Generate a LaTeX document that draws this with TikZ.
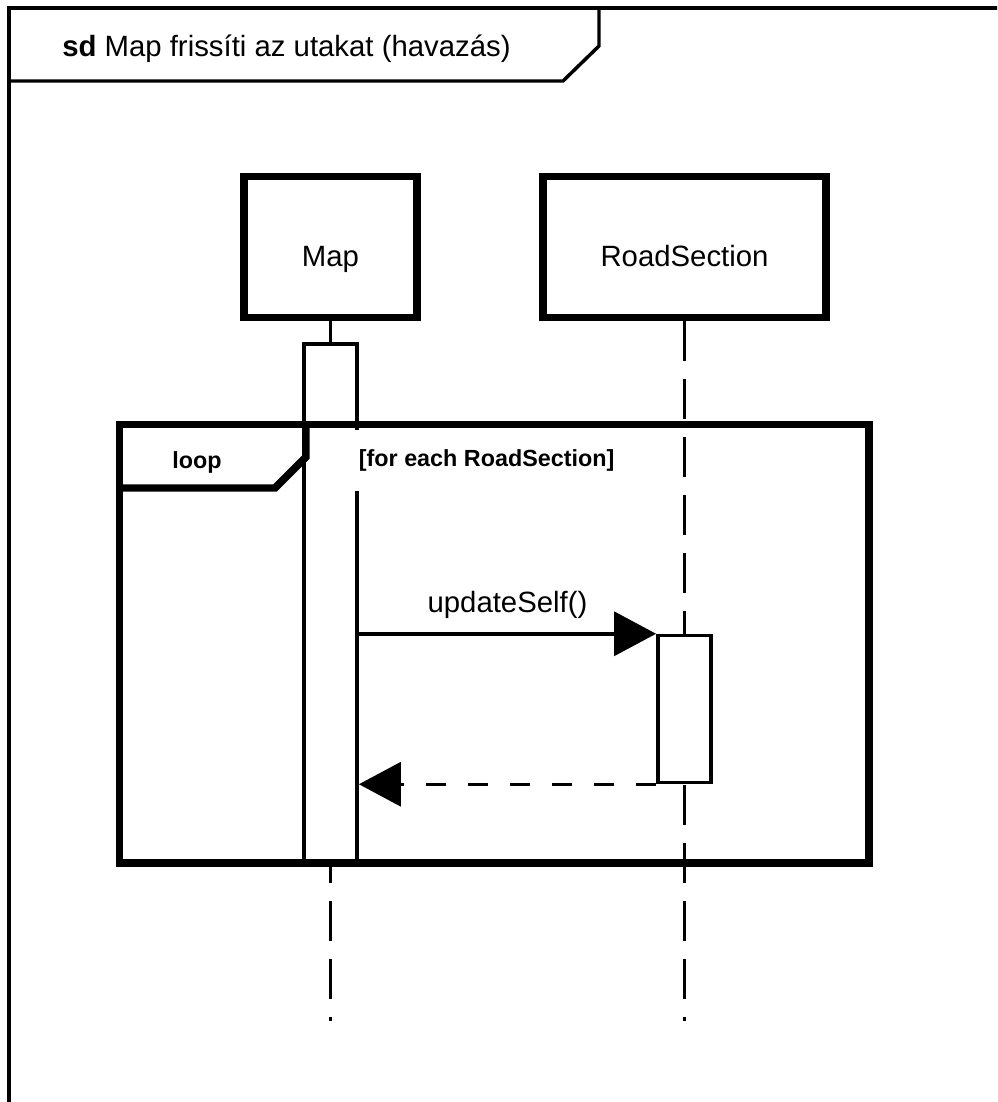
\documentclass[tikz,border=0pt]{standalone}
\usepackage{fontspec}
\setmainfont{Liberation Sans}
\usetikzlibrary{arrows.meta,positioning}

\begin{document}
\begin{tikzpicture}[x=0.75pt, y=-0.75pt,
    head/.style={draw, line width=5.6pt, minimum height=106pt, text height=28.5pt, text depth=0pt, font=\fontsize{22}{26}\selectfont},
    act/.style={draw, fill=white, line width=2.6pt, minimum width=40pt},
    life/.style={line width=2.6pt, dash pattern=on 30pt off 13.5pt},
    msg/.style={line width=2.6pt, -{Triangle[length=31.5pt, width=33pt]}},
    ret/.style={msg, dash pattern=on 15pt off 16.5pt},
    frame/.style={line width=2.6pt},
    fragment/.style={line width=5.6pt},
    keyword/.style={font=\fontsize{17.5}{21}\selectfont\bfseries},]
    \useasboundingbox (0,0) rectangle (997,1102);
    \clip (0,0) rectangle (997,1102);
    \draw[frame] (9,1110) -- (9,8) -- (1005,8);
    \draw[frame] (9,81) -- (563,81) -- (599,46) -- (599,8);
    \node[anchor=base west, inner sep=0pt, font=\fontsize{22}{26}\selectfont] (title) at (62,57) {\textbf{sd} Map frissíti az utakat (havazás)};
    \node[head, minimum width=129.75pt] (map) at (330.5,247) {Map};
    \node[head, minimum width=212.25pt, right of=map, node distance=265.5pt] (rs) {RoadSection};
    \coordinate (mapend) at (330.5,1021);
    \coordinate (rsend) at (684.5,1021);
    \draw[life] (map) -- (mapend);
    \draw[life] (rs) -- (rsend);
    \node[act, minimum height=388.5pt, below of=map, node distance=267pt] (mapact) {};
    \node[act, minimum height=110.25pt, below of=rs, node distance=346.5pt] (rsact) {};
    \draw[fragment] (119.5,424.5) rectangle (869,863);
    \draw[fragment] (119.5,488) -- (275,488) -- (306,457) -- (306,424.5);
    \node[keyword, anchor=base] (looplabel) at (197,468) {loop};
    \node[keyword, fill=white, anchor=west, inner xsep=5pt, minimum height=45.75pt] (guard) at (352,460.5) {[for each RoadSection]};
    \draw[msg] (mapact.east |- rsact.north) -- node[anchor=base, yshift=15.75pt, font=\fontsize{22}{26}\selectfont] (call) {updateSelf()} (rsact.north west);
    \draw[ret] (rsact.south west) -- (mapact.east |- rsact.south west);
  \end{tikzpicture}
\end{document}
